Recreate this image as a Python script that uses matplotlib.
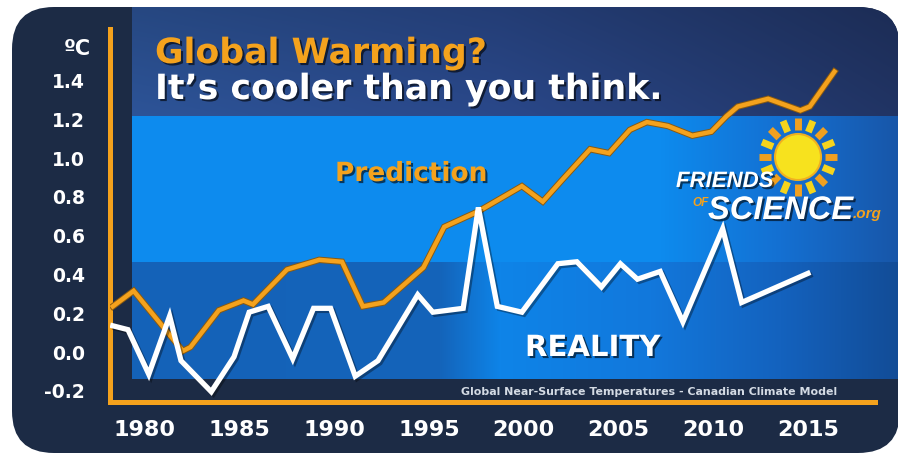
import numpy as np
import matplotlib
matplotlib.use("Agg")
import matplotlib.pyplot as plt
import matplotlib.patheffects as pe
from matplotlib.patches import FancyBboxPatch, Circle

# data (year, deg C)
years_real = [1978.3, 1979.1, 1980.2, 1981.3, 1981.9, 1983.5, 1984.7, 1985.5, 1986.5,
              1987.8, 1988.9, 1989.8, 1991.1, 1992.3, 1994.4, 1995.2, 1996.8, 1997.6,
              1998.6, 1999.9, 2001.8, 2002.8, 2004.1, 2005.1, 2006.0, 2007.2, 2008.4,
              2010.5, 2011.5, 2015.0]
reality = [0.13, 0.11, -0.12, 0.18, -0.05, -0.21, -0.03, 0.20, 0.23,
           -0.04, 0.22, 0.22, -0.13, -0.05, 0.29, 0.20, 0.22, 0.74,
           0.23, 0.20, 0.45, 0.46, 0.33, 0.45, 0.37, 0.41, 0.15,
           0.63, 0.25, 0.40]

years_pred = [1978.3, 1979.4, 1982.0, 1982.4, 1983.9, 1985.2, 1985.7, 1986.6, 1987.5,
              1989.2, 1990.4, 1991.5, 1992.6, 1994.7, 1995.8, 1997.6, 1999.9, 2001.0,
              2002.1, 2003.5, 2004.5, 2005.6, 2006.5, 2007.6, 2008.9, 2009.9, 2010.7,
              2011.3, 2012.9, 2014.6, 2015.1, 2016.4]
prediction = [0.23, 0.31, 0.00, 0.02, 0.21, 0.26, 0.24, 0.33, 0.42,
              0.47, 0.46, 0.23, 0.25, 0.43, 0.64, 0.72, 0.85, 0.77,
              0.89, 1.04, 1.02, 1.14, 1.18, 1.16, 1.11, 1.13, 1.21,
              1.26, 1.30, 1.24, 1.26, 1.44]

x_ticks = [1980, 1985, 1990, 1995, 2000, 2005, 2010, 2015]
y_ticks = [-0.2, 0.0, 0.2, 0.4, 0.6, 0.8, 1.0, 1.2, 1.4]

NAVY = "#1c2b45"
ORANGE = "#f4a21d"
W, H = 898, 456

fig = plt.figure(figsize=(W / 100, H / 100), dpi=100)
fig.patch.set_facecolor("white")

# background drawn in pixel coords
bg = fig.add_axes([0, 0, 1, 1])
bg.set_xlim(0, W)
bg.set_ylim(H, 0)
bg.axis("off")

outer = FancyBboxPatch((12, 8), 900 - 12, 454 - 8,
                       boxstyle="round,pad=0,rounding_size=42",
                       fc=NAVY, ec="none", zorder=0)
bg.add_patch(outer)


def hgrad(xs, stops, cols):
    cols = np.array(cols, dtype=float) / 255
    return np.stack([np.interp(xs, stops, cols[:, i]) for i in range(3)], axis=-1)


px0, px1, py0, py1 = 132, 900, 8, 380
xs = np.arange(px0, px1)
img = np.zeros((py1 - py0, px1 - px0, 3))
top = hgrad(xs, [132, 500, 900], [(45, 84, 152), (42, 72, 138), (33, 52, 100)])
mid = hgrad(xs, [132, 660, 780, 900], [(13, 139, 238), (13, 139, 238), (20, 112, 210), (24, 86, 168)])
low = hgrad(xs, [132, 440, 500, 650, 780, 900],
            [(20, 98, 184), (20, 100, 186), (14, 132, 232), (18, 120, 220), (20, 98, 190), (18, 76, 150)])
for j, y in enumerate(range(py0, py1)):
    if y < 117:
        img[j] = top * (0.85 + 0.15 * (y - py0) / 109)
    elif y < 263:
        img[j] = mid
    else:
        img[j] = low
im = bg.imshow(img, extent=(px0, px1, py1, py0), aspect="auto", zorder=1, interpolation="bilinear")
im.set_clip_path(outer)

shadow = [pe.withSimplePatchShadow(offset=(1.5, -1.5), shadow_rgbFace="black", alpha=0.6)]
bold = dict(family="DejaVu Sans", fontweight="bold")

bg.text(155, 64, "Global Warming?", color=ORANGE, fontsize=25, path_effects=shadow, zorder=5, **bold)
bg.text(155, 100, "It\u2019s cooler than you think.", color="white", fontsize=25,
        path_effects=shadow, zorder=5, **bold)
bg.text(335, 182, "Prediction", color=ORANGE, fontsize=19, path_effects=shadow, zorder=5, **bold)
bg.text(525, 357, "REALITY", color="white", fontsize=21, path_effects=shadow, zorder=5, **bold)
bg.text(64, 55, "\u00baC", color="white", fontsize=15, zorder=5, **bold)
bg.text(649, 392, "Global Near-Surface Temperatures - Canadian Climate Model",
        color="#d4dbe4", fontsize=7.9, ha="center", va="center", zorder=5, **bold)

# logo
cx, cy = 798, 158
for k, a in enumerate(np.deg2rad(np.arange(0, 360, 22.5))):
    bg.plot([cx + 27 * np.cos(a), cx + 39 * np.cos(a)], [cy - 27 * np.sin(a), cy - 39 * np.sin(a)],
            color="#f5d41c" if k % 2 else "#f0a020", lw=5, solid_capstyle="butt", zorder=6)
bg.add_patch(Circle((cx, cy), 23, fc="#f7e21e", ec="#f0b020", lw=1.5, zorder=6))
logo = ["Liberation Sans", "DejaVu Sans"]
bg.text(676, 188, "FRIENDS", color="white", fontsize=16, style="italic", fontweight="bold",
        family=logo, path_effects=shadow, zorder=7)
bg.text(692, 206, "OF", color=ORANGE, fontsize=8.5, style="italic", fontweight="bold",
        family=logo, zorder=7)
bg.text(708, 220, "SCIENCE", color="white", fontsize=23.5, style="italic", fontweight="bold",
        family=logo, path_effects=shadow, zorder=7)
bg.text(853, 218, ".org", color=ORANGE, fontsize=11, style="italic", fontweight="bold",
        family=logo, zorder=7)

# data axes
ax_l, ax_r, ax_t, ax_b = 110, 875, 30, 403
ax = fig.add_axes([ax_l / W, 1 - ax_b / H, (ax_r - ax_l) / W, (ax_b - ax_t) / H])
ax.set_facecolor("none")
x0 = 1980 + (ax_l - 145) / 18.94
x1 = 1980 + (ax_r - 145) / 18.94
ax.set_xlim(x0, x1)
ax.set_ylim((352 - ax_b) / 194, (352 - ax_t) / 194)

ax.plot(years_pred, prediction, color=ORANGE, lw=3.2, solid_joinstyle="miter", zorder=3,
        path_effects=[pe.Stroke(linewidth=4.6, foreground="#8a5a10"), pe.Normal()])
ax.plot(years_real, reality, color="white", lw=3.8, solid_joinstyle="miter", zorder=4,
        path_effects=[pe.SimpleLineShadow(offset=(1.5, -1.5), shadow_color="black", alpha=0.35),
                      pe.Normal()])

for s in ["top", "right"]:
    ax.spines[s].set_visible(False)
for s in ["left", "bottom"]:
    ax.spines[s].set_color(ORANGE)
    ax.spines[s].set_linewidth(3.6)

ax.set_xticks(x_ticks)
ax.set_yticks(y_ticks)
ax.set_yticklabels([f"{v:.1f}" for v in y_ticks])
ax.tick_params(axis="both", length=0, colors="white")
ax.tick_params(axis="x", pad=12, labelsize=16)
ax.tick_params(axis="y", pad=18, labelsize=13.5)
for lab in ax.get_xticklabels() + ax.get_yticklabels():
    lab.set_fontweight("bold")
    lab.set_family("DejaVu Sans")

fig.savefig("out.png", dpi=100)
